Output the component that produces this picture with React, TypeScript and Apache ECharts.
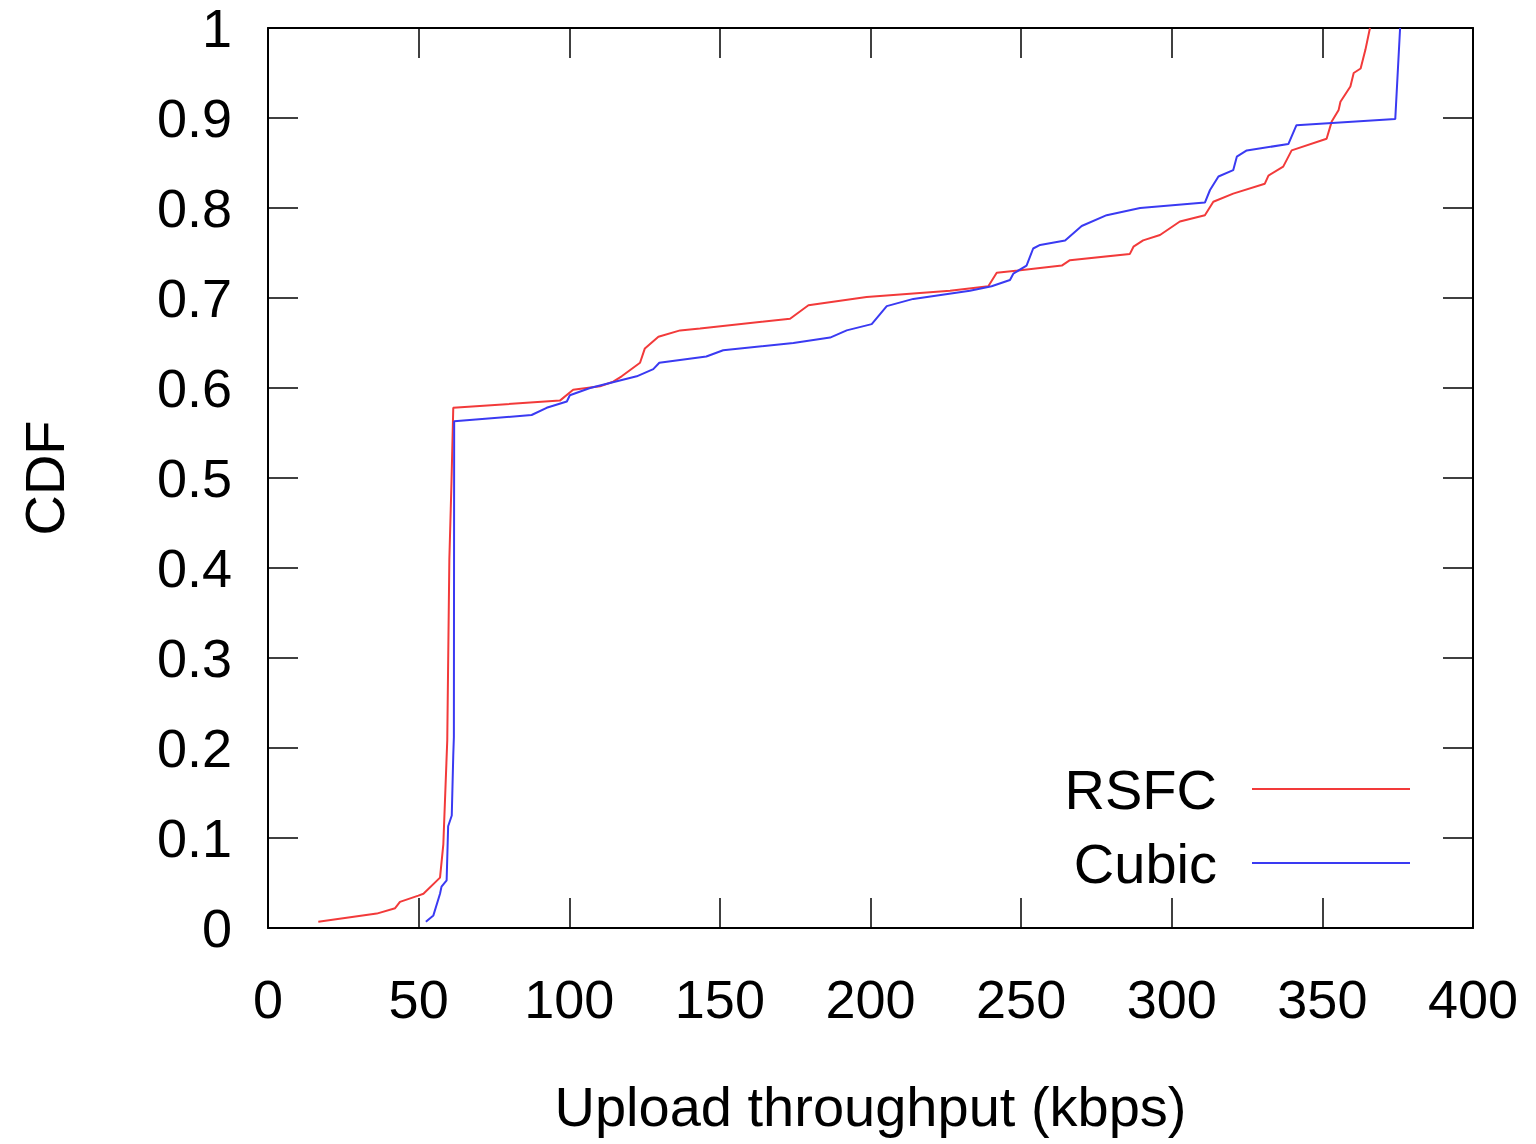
import React, { useEffect, useRef } from "react";
import * as echarts from "echarts";

// Upload throughput (kbps) vs. cumulative fraction, one curve per congestion control
const rsfcPoints: [number, number][] = [
  [16.7, 0.007], [36.1, 0.016], [42.2, 0.022], [43.8, 0.029], [49.9, 0.036],
  [51.6, 0.038], [57.1, 0.056], [58.2, 0.093], [59.5, 0.208], [60.2, 0.41],
  [60.9, 0.494], [61.5, 0.578], [96.9, 0.586], [101.3, 0.598], [110.2, 0.602],
  [114.6, 0.607], [117.4, 0.613], [123.5, 0.628], [125.1, 0.644], [129.6, 0.657],
  [136.8, 0.664], [143.4, 0.666], [173.3, 0.677], [179.4, 0.692], [198.7, 0.701],
  [226.4, 0.708], [239.1, 0.713], [241.9, 0.728], [263.5, 0.736], [266.2, 0.742],
  [286.1, 0.749], [287.3, 0.757], [290.5, 0.764], [296.1, 0.77], [302.7, 0.785],
  [311.0, 0.792], [313.8, 0.807], [320.4, 0.816], [330.9, 0.827], [332.1, 0.836],
  [337.0, 0.846], [339.8, 0.864], [351.4, 0.877], [353.1, 0.896], [355.4, 0.909],
  [356.0, 0.918], [359.3, 0.935], [360.4, 0.95], [362.7, 0.955], [364.3, 0.976],
  [365.8, 1.0],
];

const cubicPoints: [number, number][] = [
  [52.4, 0.007], [54.9, 0.014], [57.1, 0.038], [57.6, 0.046], [59.3, 0.053],
  [59.8, 0.113], [61.0, 0.125], [61.5, 0.192], [61.7, 0.212], [61.8, 0.563],
  [87.5, 0.57], [92.5, 0.578], [99.2, 0.585], [100.2, 0.592], [106.9, 0.6],
  [122.4, 0.613], [127.9, 0.621], [129.9, 0.628], [145.5, 0.635], [151.1, 0.642],
  [174.4, 0.65], [186.6, 0.656], [192.1, 0.664], [200.4, 0.671], [205.4, 0.691],
  [214.2, 0.699], [233.0, 0.708], [240.2, 0.713], [246.3, 0.72], [247.4, 0.727],
  [251.8, 0.736], [254.0, 0.755], [256.3, 0.759], [264.6, 0.764], [270.1, 0.78],
  [278.4, 0.792], [289.5, 0.8], [311.0, 0.806], [312.7, 0.82], [315.5, 0.835],
  [320.4, 0.842], [321.6, 0.857], [324.9, 0.864], [338.7, 0.871], [341.4, 0.892],
  [374.2, 0.899], [375.8, 1.0],
];

const seriesNames = ["RSFC", "Cubic"];
const seriesColors = ["#f23a3a", "#3a3af2"];

const xTicks = { min: 0, max: 400, interval: 50 };
const yTicks = { min: 0, max: 1, interval: 0.1 };

const FONT = "Liberation Sans, Arial, Helvetica, sans-serif";

export default function App() {
  const ref = useRef<HTMLDivElement>(null);

  useEffect(() => {
    if (!ref.current) return;
    const chart = echarts.init(ref.current, undefined, { renderer: "svg" });

    const frameLine = { show: true, onZero: false, lineStyle: { color: "#000", width: 2 } };
    const innerTick = { show: true, inside: true, length: 30, lineStyle: { color: "#000", width: 1.5 } };

    chart.setOption({
      animation: false,
      backgroundColor: "#fff",
      textStyle: { fontFamily: FONT, color: "#000" },
      grid: { left: 268, top: 28, right: 63, bottom: 216, containLabel: false },
      xAxis: [
        {
          type: "value",
          position: "bottom",
          ...xTicks,
          axisLine: frameLine,
          axisTick: innerTick,
          splitLine: { show: false },
          axisLabel: { fontSize: 54, color: "#000", margin: 44, fontFamily: FONT },
          name: "Upload throughput (kbps)",
          nameLocation: "middle",
          nameGap: 150,
          nameTextStyle: { fontSize: 56, color: "#000", fontFamily: FONT },
        },
        {
          type: "value",
          position: "top",
          ...xTicks,
          axisLine: frameLine,
          axisTick: innerTick,
          splitLine: { show: false },
          axisLabel: { show: false },
        },
      ],
      yAxis: [
        {
          type: "value",
          position: "left",
          ...yTicks,
          axisLine: frameLine,
          axisTick: innerTick,
          splitLine: { show: false },
          axisLabel: { fontSize: 54, lineHeight: 48, color: "#000", margin: 36, fontFamily: FONT },
          name: "CDF",
          nameLocation: "middle",
          nameGap: 196,
          nameTextStyle: { fontSize: 56, color: "#000", fontFamily: FONT },
        },
        {
          type: "value",
          position: "right",
          ...yTicks,
          axisLine: frameLine,
          axisTick: innerTick,
          splitLine: { show: false },
          axisLabel: { show: false },
        },
      ],
      legend: {
        orient: "vertical",
        right: 121,
        top: 756,
        align: "right",
        icon: "rect",
        itemWidth: 158,
        itemHeight: 2,
        itemGap: 18,
        data: seriesNames,
        textStyle: {
          fontSize: 56,
          lineHeight: 56,
          color: "#000",
          fontFamily: FONT,
          padding: [0, 30, 0, 0],
        },
      },
      series: [
        {
          name: seriesNames[0],
          type: "line",
          data: rsfcPoints,
          showSymbol: false,
          symbol: "none",
          color: seriesColors[0],
          lineStyle: { color: seriesColors[0], width: 2 },
          xAxisIndex: 0,
          yAxisIndex: 0,
        },
        {
          name: seriesNames[1],
          type: "line",
          data: cubicPoints,
          showSymbol: false,
          symbol: "none",
          color: seriesColors[1],
          lineStyle: { color: seriesColors[1], width: 2 },
          xAxisIndex: 0,
          yAxisIndex: 0,
        },
      ],
    });

    return () => chart.dispose();
  }, []);

  return (
    <div
      ref={ref}
      style={{ position: "absolute", left: 0, top: 0, width: 1536, height: 1144 }}
    />
  );
}
